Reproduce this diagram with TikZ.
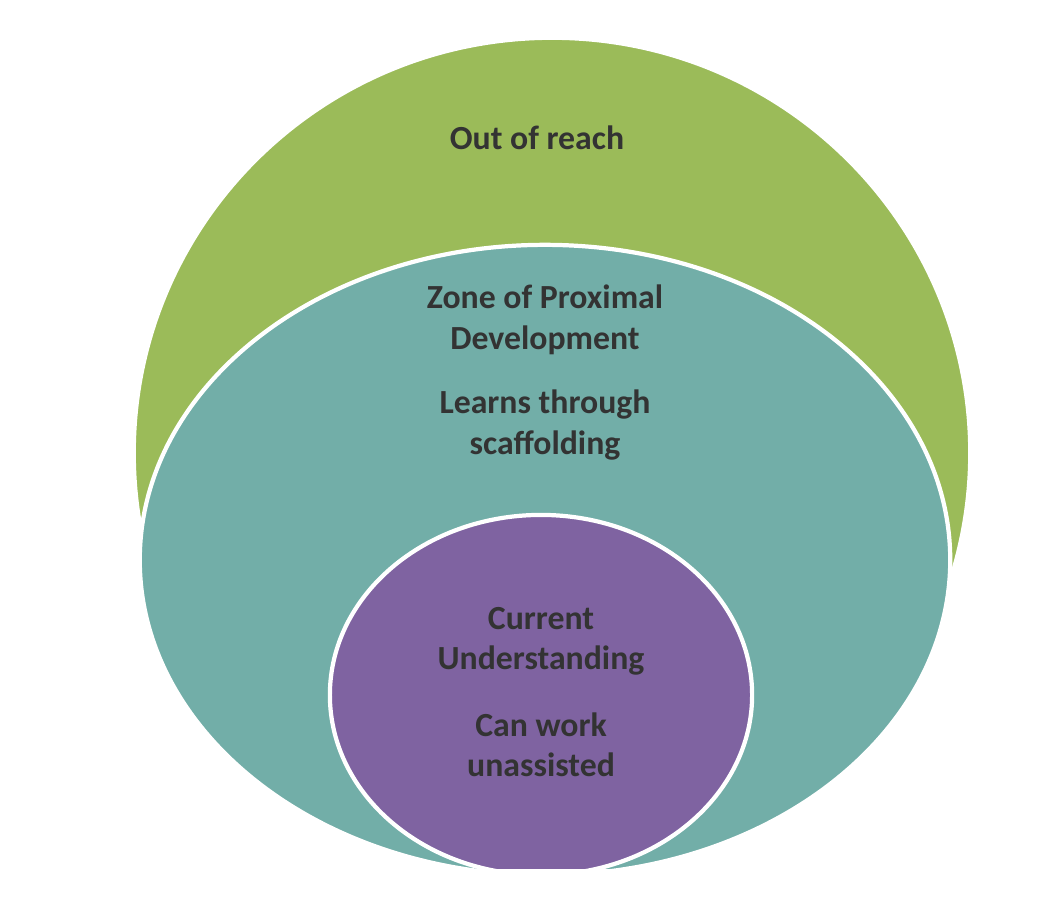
\documentclass[tikz,border=0pt]{standalone}
\usepackage{fontspec}
\setmainfont{Carlito}
\usetikzlibrary{shapes.geometric}
\definecolor{reachgreen}{HTML}{9BBB59}
\definecolor{zoneteal}{HTML}{72AEA8}
\definecolor{currentpurple}{HTML}{7F63A1}
\tikzset{zone/.style={ellipse, draw=white, line width=1.2pt, inner sep=0pt},
  label text/.style={font=\bfseries\fontsize{9.6}{11.5}\selectfont, text=black!80, align=center}}
\begin{document}
\begin{tikzpicture}[x=0.01cm, y=-0.01cm]
  \useasboundingbox (0,0) rectangle (1052,896);
  \fill[white] (0,0) rectangle (1052,896);
  \begin{scope}
    \clip (0,0) rectangle (1052,868);
    % Place zones
    \node [zone, fill=reachgreen, minimum width=8.36cm, minimum height=8.3cm] (reach) at (552,453) {};
    \node [zone, fill=zoneteal, minimum width=8.1cm, minimum height=6.3cm] (zpd) at (545,560) {};
    \node [zone, fill=currentpurple, minimum width=4.22cm, minimum height=3.6cm] (current) at (541,695) {};
  \end{scope}
  % Labels
  \node [label text] (reachText) at (537,138) {Out of reach};
  \node [label text] (zpdText) at (545,320) {Zone of Proximal\\Development};
  \node [label text] (zpdSub) at (545,425) {Learns through\\scaffolding};
  \node [label text] (currentText) at (541,641) {Current\\Understanding};
  \node [label text] (currentSub) at (541,745) {Can work\\unassisted};
\end{tikzpicture}
\end{document}
